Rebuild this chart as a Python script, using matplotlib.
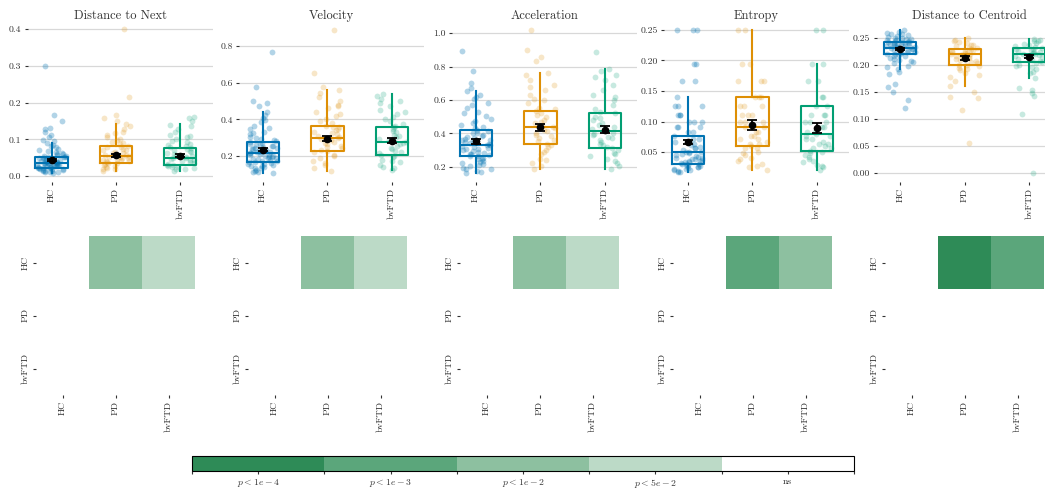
import numpy as np
import pandas as pd
import matplotlib.pyplot as plt
import seaborn as sns
from matplotlib.colors import ListedColormap, BoundaryNorm
from matplotlib.cm import ScalarMappable
from matplotlib.ticker import FixedLocator

groups = ["HC", "PD", "bvFTD"]
group_colors = ["#0173b2", "#de8f05", "#029e73"]
metrics = ["Distance to Next", "Velocity", "Acceleration", "Entropy", "Distance to Centroid"]

# box stats per metric: (whislo, q1, med, q3, whishi) for HC, PD, bvFTD
box_next = [(0.009, 0.023, 0.036, 0.053, 0.091), (0.014, 0.037, 0.054, 0.082, 0.143), (0.015, 0.029, 0.050, 0.076, 0.142)]
box_vel = [(0.106, 0.167, 0.218, 0.277, 0.442), (0.117, 0.228, 0.299, 0.363, 0.558), (0.121, 0.204, 0.277, 0.360, 0.538)]
box_acc = [(0.164, 0.263, 0.329, 0.418, 0.655), (0.188, 0.339, 0.436, 0.535, 0.762), (0.188, 0.313, 0.412, 0.521, 0.788)]
box_ent = [(0.017, 0.031, 0.050, 0.077, 0.141), (0.021, 0.060, 0.091, 0.141, 0.250), (0.021, 0.052, 0.080, 0.125, 0.195)]
box_cen = [(0.193, 0.220, 0.2315, 0.242, 0.265), (0.162, 0.2006, 0.220, 0.230, 0.251), (0.176, 0.206, 0.220, 0.2315, 0.249)]

# mean and standard error per group
mean_next = [0.044, 0.057, 0.056]
sem_next = [0.003, 0.004, 0.004]
mean_vel = [0.235, 0.294, 0.283]
sem_vel = [0.010, 0.013, 0.013]
mean_acc = [0.352, 0.436, 0.422]
sem_acc = [0.012, 0.021, 0.020]
mean_ent = [0.066, 0.094, 0.089]
sem_ent = [0.003, 0.008, 0.008]
mean_cen = [0.2296, 0.213, 0.2154]
sem_cen = [0.002, 0.003, 0.003]

next_hc = [0.009, 0.011, 0.013, 0.015, 0.016, 0.018, 0.019, 0.021, 0.022, 0.023, 0.024, 0.026, 0.027, 0.028,
           0.030, 0.031, 0.032, 0.034, 0.035, 0.036, 0.037, 0.038, 0.040, 0.041, 0.043, 0.045, 0.047, 0.049,
           0.051, 0.053, 0.055, 0.058, 0.061, 0.064, 0.068, 0.072, 0.078, 0.085, 0.091, 0.098, 0.105, 0.112,
           0.120, 0.128, 0.130, 0.150, 0.165, 0.300,
           0.010, 0.012, 0.014, 0.017, 0.020, 0.022, 0.025, 0.027, 0.029, 0.030, 0.033, 0.035, 0.036, 0.038,
           0.039, 0.042, 0.044, 0.046, 0.048, 0.050, 0.052, 0.056, 0.060, 0.066, 0.075, 0.082, 0.095]
next_pd = [0.014, 0.018, 0.022, 0.026, 0.030, 0.033, 0.036, 0.038, 0.041, 0.044, 0.047, 0.050, 0.053, 0.055,
           0.058, 0.062, 0.066, 0.070, 0.074, 0.078, 0.082, 0.086, 0.092, 0.098, 0.105, 0.112, 0.120, 0.128,
           0.135, 0.142, 0.150, 0.158, 0.165, 0.215, 0.400,
           0.020, 0.028, 0.035, 0.040, 0.045, 0.049, 0.052, 0.057, 0.064, 0.072, 0.080, 0.090, 0.102, 0.118]
next_bv = [0.015, 0.018, 0.021, 0.024, 0.027, 0.030, 0.033, 0.036, 0.040, 0.043, 0.046, 0.049, 0.052, 0.055,
           0.058, 0.062, 0.066, 0.070, 0.074, 0.078, 0.083, 0.088, 0.094, 0.100, 0.106, 0.112, 0.120, 0.128,
           0.135, 0.140, 0.150, 0.158, 0.162,
           0.019, 0.025, 0.031, 0.038, 0.044, 0.050, 0.054, 0.060, 0.068, 0.076, 0.085, 0.096, 0.110]

vel_hc = [0.106, 0.115, 0.125, 0.132, 0.140, 0.146, 0.152, 0.158, 0.163, 0.168, 0.173, 0.178, 0.184, 0.190,
          0.196, 0.202, 0.208, 0.214, 0.219, 0.224, 0.230, 0.236, 0.242, 0.249, 0.256, 0.263, 0.270, 0.277,
          0.285, 0.295, 0.306, 0.318, 0.332, 0.348, 0.365, 0.385, 0.405, 0.425, 0.442, 0.470, 0.490, 0.500,
          0.575, 0.770,
          0.110, 0.120, 0.135, 0.148, 0.155, 0.165, 0.175, 0.182, 0.188, 0.194, 0.200, 0.205, 0.211, 0.217,
          0.222, 0.228, 0.233, 0.240, 0.246, 0.253, 0.260, 0.268, 0.280, 0.300, 0.325, 0.355, 0.395]
vel_pd = [0.117, 0.135, 0.150, 0.170, 0.190, 0.205, 0.220, 0.230, 0.242, 0.255, 0.265, 0.275, 0.285, 0.295,
          0.300, 0.310, 0.320, 0.332, 0.345, 0.358, 0.365, 0.380, 0.400, 0.420, 0.440, 0.460, 0.480, 0.500,
          0.520, 0.545, 0.558, 0.575, 0.655, 0.890,
          0.160, 0.200, 0.225, 0.250, 0.270, 0.290, 0.305, 0.325, 0.340, 0.360, 0.390, 0.430, 0.470]
vel_bv = [0.121, 0.135, 0.150, 0.165, 0.180, 0.195, 0.205, 0.215, 0.228, 0.240, 0.252, 0.265, 0.277, 0.290,
          0.302, 0.315, 0.330, 0.345, 0.360, 0.375, 0.392, 0.410, 0.430, 0.450, 0.470, 0.490, 0.510, 0.525,
          0.538,
          0.140, 0.172, 0.200, 0.222, 0.245, 0.270, 0.285, 0.310, 0.338, 0.365, 0.400, 0.440, 0.500]

acc_hc = [0.164, 0.175, 0.185, 0.195, 0.205, 0.215, 0.225, 0.235, 0.245, 0.255, 0.263, 0.272, 0.280, 0.290,
          0.300, 0.310, 0.320, 0.329, 0.338, 0.348, 0.358, 0.368, 0.380, 0.392, 0.405, 0.418, 0.432, 0.448,
          0.465, 0.485, 0.505, 0.530, 0.555, 0.580, 0.605, 0.630, 0.655, 0.670, 0.700, 0.775, 0.890,
          0.170, 0.190, 0.210, 0.230, 0.250, 0.268, 0.276, 0.285, 0.295, 0.305, 0.315, 0.325, 0.333, 0.343,
          0.353, 0.363, 0.375, 0.387, 0.400, 0.412, 0.440, 0.475, 0.520, 0.570, 0.620]
acc_pd = [0.188, 0.205, 0.225, 0.250, 0.275, 0.300, 0.320, 0.339, 0.355, 0.370, 0.385, 0.400, 0.415, 0.430,
          0.436, 0.450, 0.465, 0.480, 0.500, 0.520, 0.535, 0.555, 0.580, 0.605, 0.630, 0.660, 0.690, 0.720,
          0.750, 0.762, 0.830, 0.855, 0.900, 1.020,
          0.240, 0.290, 0.330, 0.362, 0.392, 0.420, 0.445, 0.470, 0.510, 0.545, 0.600, 0.680]
acc_bv = [0.188, 0.205, 0.225, 0.245, 0.265, 0.285, 0.300, 0.313, 0.330, 0.350, 0.370, 0.390, 0.405, 0.412,
          0.425, 0.440, 0.460, 0.480, 0.500, 0.521, 0.545, 0.570, 0.600, 0.630, 0.660, 0.690, 0.720, 0.750,
          0.775, 0.788, 0.885,
          0.235, 0.275, 0.320, 0.340, 0.360, 0.380, 0.398, 0.418, 0.450, 0.490, 0.530, 0.620, 0.740]

ent_hc = [0.017, 0.019, 0.021, 0.023, 0.025, 0.027, 0.029, 0.031, 0.031, 0.033, 0.036, 0.038, 0.040, 0.042,
          0.045, 0.048, 0.050, 0.050, 0.053, 0.056, 0.059, 0.062, 0.067, 0.071, 0.077, 0.083, 0.091, 0.091,
          0.100, 0.100, 0.111, 0.111, 0.125, 0.125, 0.141, 0.167, 0.167, 0.194, 0.194, 0.250, 0.250,
          0.018, 0.020, 0.022, 0.024, 0.026, 0.028, 0.030, 0.032, 0.034, 0.035, 0.037, 0.039, 0.041, 0.044,
          0.047, 0.050, 0.056, 0.063, 0.071, 0.083, 0.091, 0.100, 0.111, 0.125, 0.250]
ent_pd = [0.021, 0.025, 0.030, 0.035, 0.040, 0.045, 0.050, 0.056, 0.060, 0.063, 0.067, 0.071, 0.077, 0.083,
          0.083, 0.091, 0.091, 0.100, 0.100, 0.111, 0.111, 0.125, 0.125, 0.141, 0.141, 0.167, 0.167, 0.194,
          0.194, 0.250, 0.250,
          0.028, 0.038, 0.048, 0.056, 0.063, 0.071, 0.077, 0.091, 0.100, 0.111, 0.125, 0.141, 0.167]
ent_bv = [0.021, 0.025, 0.029, 0.033, 0.038, 0.042, 0.048, 0.052, 0.056, 0.060, 0.063, 0.067, 0.071, 0.077,
          0.080, 0.083, 0.091, 0.100, 0.100, 0.111, 0.111, 0.125, 0.141, 0.141, 0.167, 0.167, 0.194, 0.194,
          0.250, 0.250,
          0.027, 0.035, 0.045, 0.050, 0.056, 0.063, 0.071, 0.077, 0.083, 0.091, 0.100, 0.111, 0.125]

cen_hc = [0.120, 0.135, 0.150, 0.160, 0.165, 0.183, 0.193, 0.198, 0.203, 0.207, 0.210, 0.213, 0.216, 0.218,
          0.220, 0.222, 0.224, 0.226, 0.228, 0.230, 0.231, 0.232, 0.233, 0.234, 0.235, 0.236, 0.238, 0.239,
          0.240, 0.241, 0.242, 0.243, 0.245, 0.246, 0.248, 0.250, 0.252, 0.255, 0.258, 0.262, 0.265,
          0.188, 0.196, 0.205, 0.212, 0.217, 0.221, 0.225, 0.229, 0.231, 0.233, 0.235, 0.237, 0.239, 0.241,
          0.243, 0.244, 0.247, 0.249, 0.251, 0.254, 0.257, 0.260]
cen_pd = [0.056, 0.117, 0.138, 0.140, 0.150, 0.162, 0.170, 0.178, 0.185, 0.190, 0.195, 0.199, 0.201, 0.204,
          0.207, 0.210, 0.213, 0.216, 0.218, 0.220, 0.222, 0.224, 0.226, 0.228, 0.230, 0.232, 0.235, 0.238,
          0.241, 0.244, 0.247, 0.250,
          0.182, 0.193, 0.200, 0.206, 0.211, 0.215, 0.219, 0.221, 0.223, 0.227, 0.231, 0.237, 0.243]
cen_bv = [0.000, 0.110, 0.142, 0.148, 0.153, 0.157, 0.176, 0.185, 0.192, 0.198, 0.203, 0.206, 0.209, 0.212,
          0.215, 0.218, 0.220, 0.222, 0.224, 0.226, 0.228, 0.230, 0.232, 0.235, 0.238, 0.241, 0.244, 0.247,
          0.249,
          0.188, 0.196, 0.201, 0.207, 0.211, 0.216, 0.219, 0.221, 0.225, 0.229, 0.233, 0.240, 0.245]

# significance level of HC-PD and HC-bvFTD tests (0: p<1e-4 ... 4: ns)
hc_vs_pd = [2, 2, 2, 1, 0]
hc_vs_bv = [3, 3, 3, 2, 1]

level_labels = [r"$p < 1e-4$", r"$p < 1e-3$", r"$p < 1e-2$", r"$p < 5e-2$", "ns"]
level_colors = ["#2e8b57", "#5ba67b", "#8dc0a0", "#bcdac7", "#ffffff"]

y_limits = [(-0.016, 0.419), (0.058, 0.931), (0.110, 1.066), (0.001, 0.263), (-0.017, 0.280)]
y_ticks = [[0.0, 0.1, 0.2, 0.3, 0.4], [0.2, 0.4, 0.6, 0.8], [0.2, 0.4, 0.6, 0.8, 1.0],
           [0.05, 0.10, 0.15, 0.20, 0.25], [0.00, 0.05, 0.10, 0.15, 0.20, 0.25]]
y_fmt = ["{:.1f}", "{:.1f}", "{:.1f}", "{:.2f}", "{:.2f}"]

all_boxes = [box_next, box_vel, box_acc, box_ent, box_cen]
all_means = [mean_next, mean_vel, mean_acc, mean_ent, mean_cen]
all_sems = [sem_next, sem_vel, sem_acc, sem_ent, sem_cen]
all_points = [[next_hc, next_pd, next_bv], [vel_hc, vel_pd, vel_bv], [acc_hc, acc_pd, acc_bv],
              [ent_hc, ent_pd, ent_bv], [cen_hc, cen_pd, cen_bv]]

plt.rcParams["font.family"] = ["cmr10", "DejaVu Serif"]
plt.rcParams["mathtext.fontset"] = "cm"
plt.rcParams["axes.formatter.use_mathtext"] = True
plt.rcParams["text.color"] = "#333333"
plt.rcParams["xtick.color"] = "#333333"
plt.rcParams["ytick.color"] = "#333333"

W, H = 1045, 492
fig = plt.figure(figsize=(W / 100, H / 100), dpi=100)

def px_axes(left, top, width, height):
    return fig.add_axes([left / W, 1 - (top + height) / H, width / W, height / H])

top_lefts = [27.7, 239.2, 452.2, 664.2, 876.5]
heat_lefts = [36, 248, 460, 673, 885]

cmap = ListedColormap(level_colors)
cmap.set_bad("white")
norm = BoundaryNorm(np.arange(-0.5, 5.5, 1), cmap.N)

np.random.seed(3)
for i, name in enumerate(metrics):
    ax = px_axes(top_lefts[i], 22, 184.8, 160)
    for j, g in enumerate(groups):
        vals = all_points[i][j]
        sns.stripplot(x=[g] * len(vals), y=vals, order=groups, color=group_colors[j],
                      alpha=0.3 if j == 0 else 0.22, size=4.2, jitter=0.23, linewidth=0,
                      ax=ax, zorder=1)
    stats = []
    for j, g in enumerate(groups):
        lo, q1, med, q3, hi = all_boxes[i][j]
        stats.append(dict(whislo=lo, q1=q1, med=med, q3=q3, whishi=hi, fliers=[]))
    for j in range(3):
        c = group_colors[j]
        ax.bxp([stats[j]], positions=[j], widths=0.5, showfliers=False, showcaps=False,
               boxprops=dict(color=c, lw=1.5), whiskerprops=dict(color=c, lw=1.5),
               medianprops=dict(color=c, lw=1.5), manage_ticks=False, zorder=3)
    ax.errorbar(range(3), all_means[i], yerr=all_sems[i], fmt="o", color="black",
                ms=4.5, capsize=3.5, elinewidth=1.3, capthick=1.3, zorder=5)
    ax.set_xlim(-0.37, 2.5)
    ax.set_ylim(*y_limits[i])
    ax.set_yticks(y_ticks[i])
    ax.set_yticklabels([y_fmt[i].format(t) for t in y_ticks[i]])
    ax.set_xticks(range(3))
    ax.set_xticklabels(groups, rotation=90)
    ax.yaxis.grid(True, color="#d8d8d8", lw=0.9, zorder=0)
    ax.set_axisbelow(True)
    for s in ax.spines.values():
        s.set_visible(False)
    ax.tick_params(labelsize=7, length=2.5, width=0.8, pad=2)
    ax.set_xlabel("")
    ax.set_ylabel("")
    ax.set_title(name, fontsize=9, pad=2)

    # pairwise significance heatmap
    hx = px_axes(heat_lefts[i], 236, 159, 159)
    mat = np.full((3, 3), np.nan)
    mat[0, 1] = hc_vs_pd[i]
    mat[0, 2] = hc_vs_bv[i]
    hx.imshow(np.ma.masked_invalid(mat), cmap=cmap, norm=norm, aspect="auto",
              interpolation="nearest")
    hx.set_xticks(range(3))
    hx.set_yticks(range(3))
    hx.set_xticklabels(groups, rotation=90)
    hx.set_yticklabels(groups, rotation=90, va="center")
    for s in hx.spines.values():
        s.set_visible(False)
    hx.tick_params(labelsize=7, length=2.5, width=0.8, pad=2)

cax = px_axes(192, 456, 662, 15)
cb = fig.colorbar(ScalarMappable(norm=norm, cmap=cmap), cax=cax, orientation="horizontal")
cb.set_ticks(range(5))
cb.set_ticklabels(level_labels)
cb.outline.set_edgecolor("black")
cb.outline.set_linewidth(0.8)
cax.xaxis.set_minor_locator(FixedLocator(np.arange(-0.5, 5.5, 1)))
cax.tick_params(which="both", labelsize=7, length=2.5, width=0.8, pad=2)

fig.savefig("out.png", dpi=100)
